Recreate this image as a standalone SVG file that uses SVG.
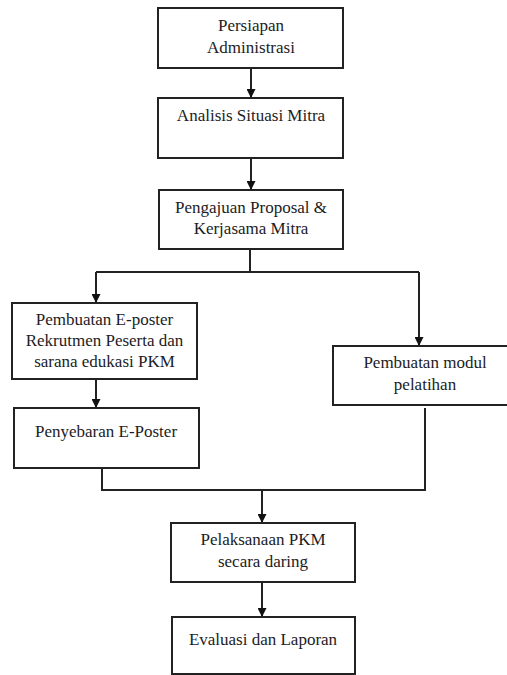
<svg xmlns="http://www.w3.org/2000/svg" width="507" height="675" viewBox="0 0 507 675">
<style>
.box{fill:#fff;stroke:#222;stroke-width:2}
.t{font-family:'Liberation Serif', 'Times New Roman', 'DejaVu Serif', serif;font-size:17px;fill:#1c1c24;text-anchor:middle}
.c{fill:none;stroke:#222;stroke-width:2}
</style>
<defs>
<marker id="a" markerWidth="9" markerHeight="9" refX="8" refY="4.5" orient="auto" markerUnits="userSpaceOnUse" viewBox="0 0 9 9">
<path d="M0,0 L9,4.5 L0,9 Z" fill="#111"/>
</marker>
</defs>
<rect width="507" height="675" fill="#fff"/>
<g id="connectors">
<path class="c" d="M251,68 V97" marker-end="url(#a)"/>
<path class="c" d="M251,158 V189" marker-end="url(#a)"/>
<path class="c" d="M250,249 V272"/>
<path class="c" d="M96,272 H419"/>
<path class="c" d="M96,272 V302" marker-end="url(#a)"/>
<path class="c" d="M419,272 V345" marker-end="url(#a)"/>
<path class="c" d="M96,379 V407" marker-end="url(#a)"/>
<path class="c" d="M102,468 V490 H425 V408"/>
<path class="c" d="M262,490 V522" marker-end="url(#a)"/>
<path class="c" d="M262,582 V616" marker-end="url(#a)"/>
</g>
<g font-family="Liberation Serif, serif">
<g id="n1"><rect class="box" x="158" y="8" width="185" height="60"/><text class="t" x="251" y="31">Persiapan</text><text class="t" x="251" y="53">Administrasi</text></g>
<g id="n2"><rect class="box" x="158" y="98" width="185" height="60"/><text class="t" x="251" y="121">Analisis Situasi Mitra</text></g>
<g id="n3"><rect class="box" x="159" y="190" width="184" height="59"/><text class="t" x="251" y="213">Pengajuan Proposal &amp;</text><text class="t" x="251" y="234">Kerjasama Mitra</text></g>
<g id="n4"><rect class="box" x="12" y="303" width="185" height="76"/><text class="t" x="104.5" y="325">Pembuatan E-poster</text><text class="t" x="104.5" y="346">Rekrutmen Peserta dan</text><text class="t" x="104.5" y="367">sarana edukasi PKM</text></g>
<g id="n5"><rect class="box" x="14" y="408" width="185" height="60"/><text class="t" x="106" y="437">Penyebaran E-Poster</text></g>
<g id="n6"><rect class="box" x="333" y="346" width="185" height="59"/><text class="t" x="425" y="368">Pembuatan modul</text><text class="t" x="425" y="390">pelatihan</text></g>
<g id="n7"><rect class="box" x="171" y="523" width="184" height="59"/><text class="t" x="263" y="545">Pelaksanaan PKM</text><text class="t" x="263" y="567">secara daring</text></g>
<g id="n8"><rect class="box" x="172" y="617" width="183" height="57"/><text class="t" x="263" y="645">Evaluasi dan Laporan</text></g>
</g>
</svg>
